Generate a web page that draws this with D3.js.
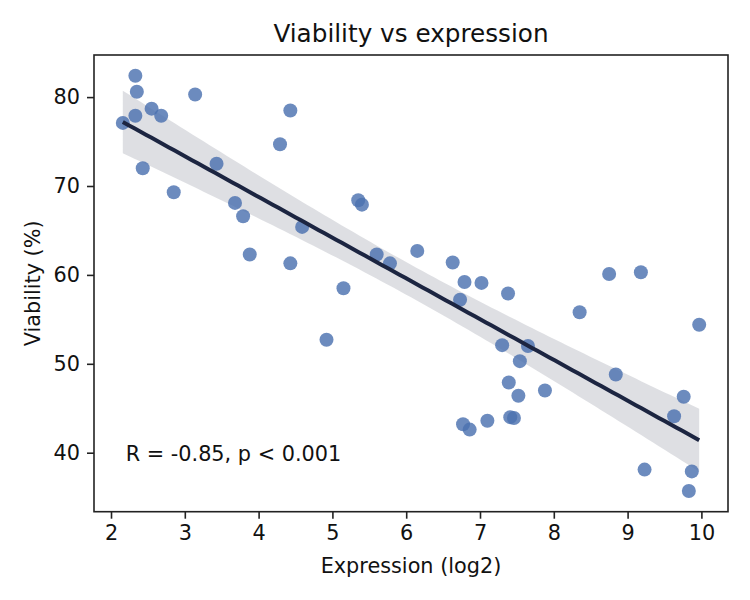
<!DOCTYPE html>
<html>
<head>
<meta charset="utf-8">
<script src="https://cdn.jsdelivr.net/npm/d3@7"></script>
<style>
    body { margin: 0; background: #fff; }
    text { font-family: "DejaVu Sans", sans-serif; }
</style>
</head>
<body>
<div id="chart"></div>
<script>
// values
const expression = [2.33, 2.35, 2.55, 2.68, 2.33, 2.16, 3.14, 4.43, 4.29, 3.43,
    2.43, 2.85, 3.68, 3.79, 4.59, 5.35, 5.40, 3.88, 4.43, 5.60,
    5.78, 6.15, 6.63, 6.79, 7.02, 7.38, 6.73, 5.15, 4.92, 7.30,
    7.54, 7.39, 7.52, 8.75, 9.18, 8.35, 9.97, 7.65, 7.88, 8.84,
    9.76, 6.77, 6.86, 7.10, 7.41, 7.46, 9.63, 9.23, 9.87, 9.83];
const viability = [82.4, 80.6, 78.7, 77.9, 77.9, 77.1, 80.3, 78.5, 74.7, 72.5,
    72.0, 69.3, 68.1, 66.6, 65.4, 68.4, 67.9, 62.3, 61.3, 62.3,
    61.3, 62.7, 61.4, 59.2, 59.1, 57.9, 57.2, 58.5, 52.7, 52.1,
    50.3, 47.9, 46.4, 60.1, 60.3, 55.8, 54.4, 52.0, 47.0, 48.8,
    46.3, 43.2, 42.6, 43.6, 44.0, 43.9, 44.1, 38.1, 37.9, 35.7];
const xTicks = [2, 3, 4, 5, 6, 7, 8, 9, 10];
const yTicks = [40, 50, 60, 70, 80];
const titleText = "Viability vs expression";
const xLabel = "Expression (log2)";
const yLabel = "Viability (%)";
const note = "R = -0.85, p < 0.001";

(function () {
    let width = 750, height = 600;
    let left = 94, right = 728, top = 55, bottom = 511.7;
    let fs = 20.8;

    let svg = d3.select("#chart")
        .append("svg")
        .attr("width", width)
        .attr("height", height);

    let data = expression.map((v, i) => ({x: v, y: viability[i]}));

    // 5% margins like matplotlib
    let xe = d3.extent(expression), ye = d3.extent(viability);
    let xm = (xe[1] - xe[0]) * 0.05, ym = (ye[1] - ye[0]) * 0.05;
    let x = d3.scaleLinear()
        .domain([xe[0] - xm, xe[1] + xm])
        .range([left, right]);
    let y = d3.scaleLinear()
        .domain([ye[0] - ym, ye[1] + ym])
        .range([bottom, top]);

    // least squares fit with confidence band
    let n = data.length;
    let mx = d3.mean(expression), my = d3.mean(viability);
    let sxx = d3.sum(expression, v => (v - mx) * (v - mx));
    let sxy = d3.sum(data, d => (d.x - mx) * (d.y - my));
    let slope = sxy / sxx, icpt = my - slope * mx;
    let s = Math.sqrt(d3.sum(data, d => Math.pow(d.y - icpt - slope * d.x, 2)) / (n - 2));
    let grid = d3.range(0, 101).map(k => xe[0] + (xe[1] - xe[0]) * k / 100);
    let fit = grid.map(g => {
        let yh = icpt + slope * g;
        let half = 1.9 * s * Math.sqrt(1 / n + (g - mx) * (g - mx) / sxx);
        return {x: g, y: yh, lo: yh - half, hi: yh + half};
    });

    svg.append("path")
        .datum(fit)
        .attr("d", d3.area().x(d => x(d.x)).y0(d => y(d.lo)).y1(d => y(d.hi)))
        .attr("fill", "#1f2a44")
        .attr("fill-opacity", 0.15);

    svg.selectAll(".dot")
        .data(data)
        .enter()
        .append("circle")
        .attr("cx", d => x(d.x))
        .attr("cy", d => y(d.y))
        .attr("r", 7)
        .attr("fill", "#4c72b0")
        .attr("fill-opacity", 0.82);

    svg.append("path")
        .datum(fit)
        .attr("d", d3.line().x(d => x(d.x)).y(d => y(d.y)))
        .attr("fill", "none")
        .attr("stroke", "#1c2541")
        .attr("stroke-width", 4);

    // axes
    let gx = svg.append("g")
        .attr("transform", `translate(0,${bottom})`)
        .call(d3.axisBottom(x).tickValues(xTicks).tickSize(7).tickPadding(7).tickSizeOuter(0));
    let gy = svg.append("g")
        .attr("transform", `translate(${left},0)`)
        .call(d3.axisLeft(y).tickValues(yTicks).tickSize(7).tickPadding(7).tickSizeOuter(0));
    [gx, gy].forEach(g => {
        g.select(".domain").remove();
        g.selectAll("line").attr("stroke", "#222").attr("stroke-width", 1.6);
        g.selectAll("text")
            .attr("font-size", fs + "px")
            .attr("font-family", "DejaVu Sans")
            .attr("fill", "#111");
    });

    svg.append("rect")
        .attr("x", left)
        .attr("y", top)
        .attr("width", right - left)
        .attr("height", bottom - top)
        .attr("fill", "none")
        .attr("stroke", "#222")
        .attr("stroke-width", 1.6);

    svg.append("text")
        .text(titleText)
        .attr("x", (left + right) / 2)
        .attr("y", 42)
        .attr("text-anchor", "middle")
        .attr("font-size", "24.7px")
        .attr("fill", "#111");

    svg.append("text")
        .text(xLabel)
        .attr("x", (left + right) / 2)
        .attr("y", 573)
        .attr("text-anchor", "middle")
        .attr("font-size", fs + "px")
        .attr("fill", "#111");

    svg.append("text")
        .text(yLabel)
        .attr("transform", `translate(40,${(top + bottom) / 2}) rotate(-90)`)
        .attr("text-anchor", "middle")
        .attr("font-size", fs + "px")
        .attr("fill", "#111");

    svg.append("text")
        .text(note)
        .attr("x", left + 0.05 * (right - left))
        .attr("y", 461)
        .attr("font-size", fs + "px")
        .attr("fill", "#111");
})();
</script>
</body>
</html>
